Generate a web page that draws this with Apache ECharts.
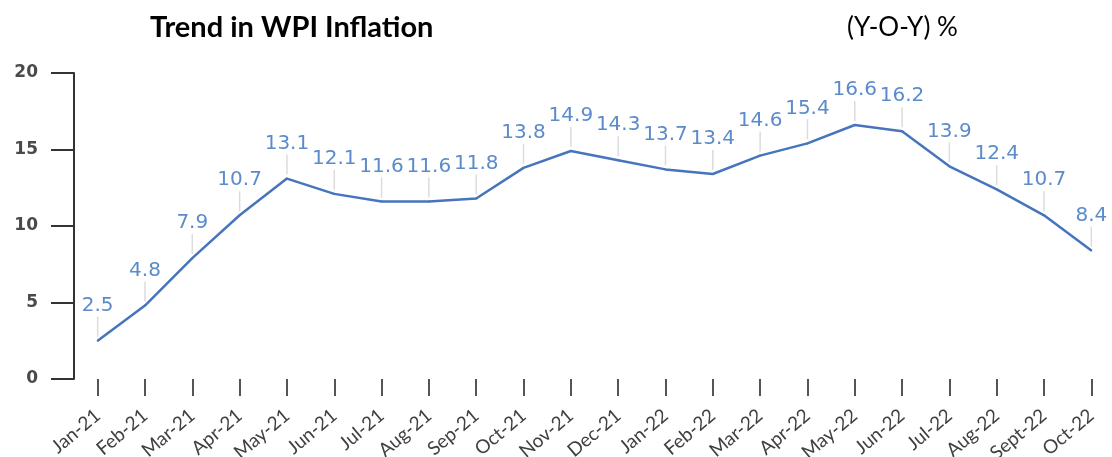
<!DOCTYPE html>
<html>
<head>
<meta charset="utf-8">
<script src="https://cdn.jsdelivr.net/npm/echarts@6/dist/echarts.min.js"></script>
<style>
  html, body { margin: 0; padding: 0; background: #fff; }
  #chart { width: 1112px; height: 457px; }
</style>
</head>
<body>
<div id="chart"></div>
<script>
// 数据
const months = ['Jan-21', 'Feb-21', 'Mar-21', 'Apr-21', 'May-21', 'Jun-21', 'Jul-21', 'Aug-21',
  'Sep-21', 'Oct-21', 'Nov-21', 'Dec-21', 'Jan-22', 'Feb-22', 'Mar-22', 'Apr-22', 'May-22',
  'Jun-22', 'Jul-22', 'Aug-22', 'Sept-22', 'Oct-22']
const wpi = [2.5, 4.8, 7.9, 10.7, 13.1, 12.1, 11.6, 11.6, 11.8, 13.8, 14.9, 14.3, 13.7, 13.4,
  14.6, 15.4, 16.6, 16.2, 13.9, 12.4, 10.7, 8.4]
const yTicks = [0, 5, 10, 15, 20]

const chart = echarts.init(document.getElementById('chart'))

chart.setOption({
  animation: false,
  title: [
    {
      text: 'Trend in WPI Inflation',
      left: 145, top: 8,
      textStyle: { fontFamily: 'Lato', fontWeight: 'bold', fontSize: 29, color: '#000' }
    },
    {
      text: '(Y-O-Y) %',
      left: 842, top: 10,
      textStyle: { fontFamily: 'Lato', fontWeight: 'normal', fontSize: 26, color: '#000' }
    }
  ],
  grid: { left: 74, right: -3, top: 73, bottom: 78, containLabel: false, outerBoundsMode: 'none' },
  xAxis: {
    type: 'category',
    data: months,
    boundaryGap: true,
    offset: 3,
    axisLine: { show: false },
    axisTick: { show: true, alignWithLabel: true, length: 17, lineStyle: { color: '#555', width: 2 } },
    axisLabel: {
      rotate: 40, margin: 31, interval: 0,
      fontFamily: 'Lato', fontSize: 19, color: '#404040'
    }
  },
  yAxis: {
    type: 'value',
    min: yTicks[0], max: yTicks[yTicks.length - 1], interval: 5,
    splitLine: { show: false },
    axisLine: { show: true, lineStyle: { color: '#333', width: 2 } },
    axisTick: { show: true, length: 23, lineStyle: { color: '#333', width: 2 } },
    axisLabel: { margin: 36, fontFamily: 'DejaVu Sans', fontWeight: 'bold', fontSize: 17, color: '#4a4a4a' }
  },
  series: [
    {
      // 引导线
      type: 'custom',
      data: wpi.map((v, i) => [i, v]),
      silent: true,
      z: 1,
      renderItem: (params, api) => {
        const p = api.coord([api.value(0), api.value(1)])
        return {
          type: 'line',
          shape: { x1: p[0], y1: p[1] - 4, x2: p[0], y2: p[1] - 24 },
          style: { stroke: '#dcdcdc', lineWidth: 1.5 }
        }
      }
    },
    {
      type: 'line',
      data: wpi,
      z: 3,
      symbol: 'circle',
      symbolSize: 2,
      showSymbol: true,
      itemStyle: { color: '#4674bd' },
      lineStyle: { color: '#4674bd', width: 2.5 },
      label: {
        show: true,
        position: 'top',
        distance: 24,
        fontFamily: 'DejaVu Sans',
        fontSize: 20,
        color: '#5b8bca'
      },
      labelLayout: { hideOverlap: false }
    }
  ]
})
</script>
</body>
</html>
